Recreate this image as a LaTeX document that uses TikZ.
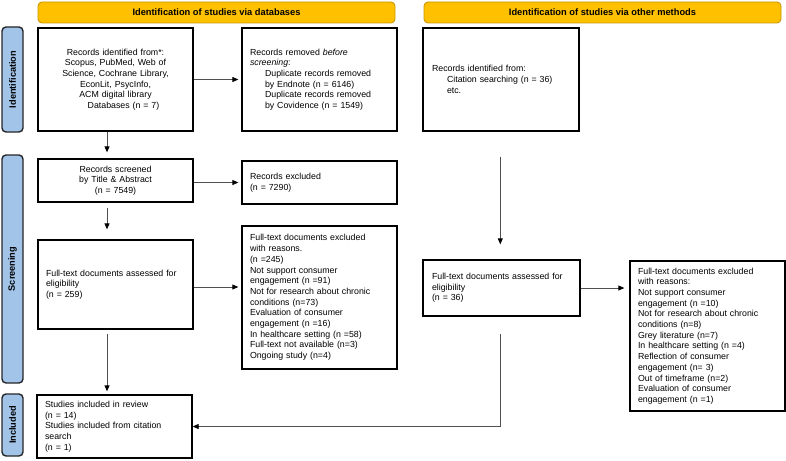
\documentclass[tikz,border=0pt]{standalone}
\usepackage{fontspec}
\setmainfont{Liberation Sans}
\usetikzlibrary{arrows.meta,calc}
\definecolor{hdrfill}{HTML}{FFC000}
\definecolor{hdrdraw}{HTML}{C99700}
\definecolor{stagefill}{HTML}{A2C4E9}
\definecolor{connclr}{HTML}{505050}
\begin{document}
\begin{tikzpicture}[x=1pt,y=-1pt,
  box/.style={draw=black, line width=1.3pt, inner xsep=8pt, inner ysep=2pt,
    font=\fontsize{8.8}{10.7}\selectfont, align=left},
  header/.style={draw=hdrdraw, fill=hdrfill, line width=0.9pt, rounded corners=4pt,
    font=\fontsize{9.3}{11}\selectfont\bfseries, minimum width=357pt, minimum height=21pt, inner sep=0pt},
  stage/.style={draw=black!85, fill=stagefill, line width=1.4pt, rounded corners=4pt,
    font=\fontsize{9.2}{11}\selectfont\bfseries, rotate=90, minimum height=21pt, inner sep=0pt},
  conn/.style={draw=connclr, line width=0.8pt, -{Triangle[length=6pt,width=5pt,color=black]}}]
\useasboundingbox (0,0) rectangle (786,460);

% headers
\node[header] (H1) at (216.5,12.5) {Identification of studies via databases};
\node[header] (H2) at (602.5,12.5) {Identification of studies via other methods};

% stage labels
\node[stage, minimum width=105pt] (S1) at (12.5,79.5) {Identification};
\node[stage, minimum width=228pt] (S2) at (12.5,269) {Screening};
\node[stage, minimum width=62pt] (S3) at (12.5,425) {Included};

% boxes
\node[box, align=center, text width=139pt, minimum width=155pt, minimum height=103pt] (A) at (115.5,79.5)
  {Records identified from*:\\ Scopus, PubMed, Web of\\ Science, Cochrane Library,\\ EconLit, PsycInfo,\\ ACM digital library\\ \hspace*{16pt}Databases (n = 7)};
\node[box, text width=139pt, minimum width=155pt, minimum height=103pt] (B) at (319.5,79.5)
  {Records removed \textit{before}\\ \textit{screening}:\\ \hspace*{15pt}Duplicate records removed\\ \hspace*{15pt}by Endnote (n = 6146)\\ \hspace*{15pt}Duplicate records removed\\ \hspace*{15pt}by Covidence (n = 1549)};
\node[box, inner xsep=9pt, text width=138pt, minimum width=156pt, minimum height=103pt] (C) at (501,79.5)
  {Records identified from:\\ \hspace*{15pt}Citation searching (n = 36)\\ \hspace*{15pt}etc.};

\node[box, align=center, text width=139pt, minimum width=155pt, minimum height=43pt] (D) at (115.5,180.5)
  {Records screened\\ by Title \& Abstract\\ (n = 7549)};
\node[box, text width=139pt, minimum width=155pt, minimum height=43pt] (E) at (319.5,182.5)
  {Records excluded\\ (n = 7290)};
\node[box, text width=139pt, minimum width=155pt, minimum height=89pt] (F) at (115.5,284.5)
  {Full-text documents assessed for\\ eligibility\\ (n = 259)};
\node[box, text width=139pt, minimum width=155pt, minimum height=143pt] (G) at (319.5,297.5)
  {Full-text documents excluded\\ with reasons.\\ (n =245)\\ Not support consumer\\ engagement (n =91)\\ Not for research about chronic\\ conditions (n=73)\\ Evaluation of consumer\\ engagement (n =16)\\ In healthcare setting (n =58)\\ Full-text not available (n=3)\\ Ongoing study (n=4)};
\node[box, inner xsep=9pt, text width=139pt, minimum width=157pt, minimum height=56pt] (F2) at (501.5,288)
  {Full-text documents assessed for\\ eligibility\\ (n = 36)};
\node[box, text width=139pt, minimum width=155pt, minimum height=150pt] (G2) at (707.5,336)
  {Full-text documents excluded\\ with reasons:\\ Not support consumer\\ engagement (n =10)\\ Not for research about chronic\\ conditions (n=8)\\ Grey literature (n=7)\\ In healthcare setting (n =4)\\ Reflection of consumer\\ engagement (n= 3)\\ Out of timeframe (n=2)\\ Evaluation of consumer\\ engagement (n =1)};
\node[box, text width=139pt, minimum width=155pt, minimum height=63pt] (H) at (114.5,426.5)
  {Studies included in review\\ (n = 14)\\ Studies included from citation\\ search\\ (n = 1)};

% connectors
\draw[conn, shorten >=3pt] (A.east) -- (B.west);
\draw[conn, shorten >=6pt] ([xshift=-8.5pt]A.south) -- ([xshift=-8.5pt]A.south |- D.north);
\draw[conn, shorten >=3pt] (E.west -| D.east) -- (E.west);
\draw[conn, shorten <=5pt, shorten >=10pt] ([xshift=-8.5pt]D.south) -- ([xshift=-8.5pt]D.south |- F.north);
\draw[conn, shorten >=3pt] ([yshift=-2.5pt]F.east) -- ([yshift=-2.5pt]F.east -| G.west);
\draw[conn, shorten <=4pt, shorten >=3pt] ([xshift=-8.5pt]F.south) -- ([xshift=-8.5pt]F.south |- H.north);
\draw[conn, shorten <=25pt, shorten >=15pt] ([xshift=-0.7pt]C.south) -- ([xshift=-0.7pt]C.south |- F2.north);
\draw[conn, shorten >=5pt] (F2.east) -- (F2.east -| G2.west);
\draw[conn, shorten <=17pt] ([xshift=-1.5pt]F2.south) |- (H.east);
\end{tikzpicture}
\end{document}
